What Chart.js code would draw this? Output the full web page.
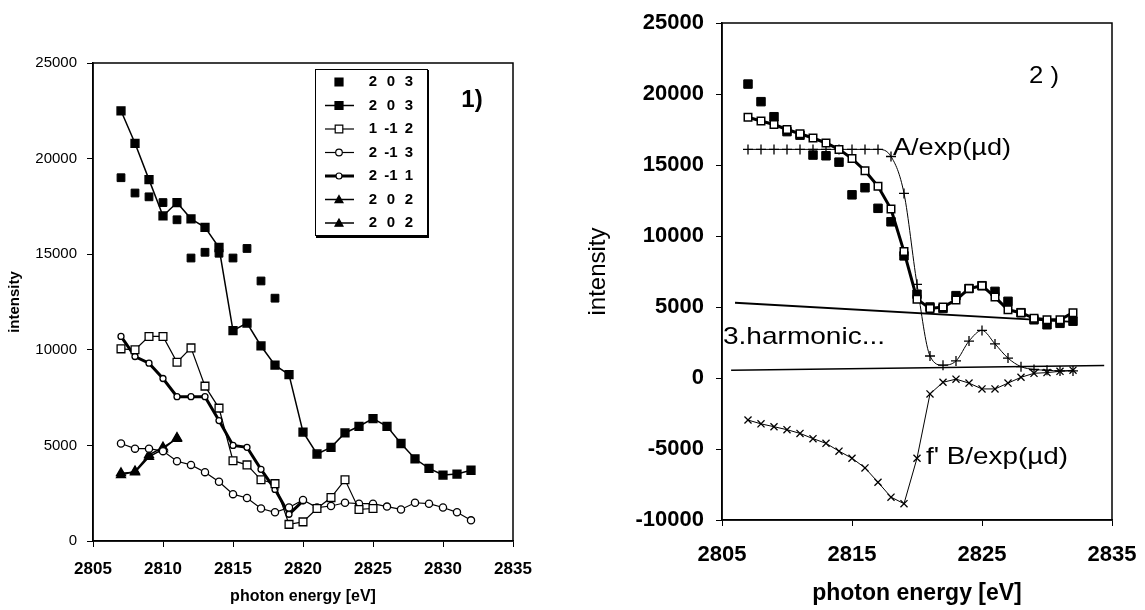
<!DOCTYPE html>
<html>
<head>
<meta charset="utf-8">
<script src="https://cdn.jsdelivr.net/npm/chart.js@4.4.0/dist/chart.umd.min.js"></script>
<style>
  body { margin: 0; background: #fff; width: 1145px; height: 610px; overflow: hidden; position: relative; }
  canvas { position: absolute; top: 0; }
  #left { left: 0; }
  #right { left: 560px; }
</style>
</head>
<body>
<canvas id="left" width="560" height="610"></canvas>
<canvas id="right" width="585" height="610"></canvas>
<script>
// ---- panel 1) ----
const energy = [2807, 2808, 2809, 2810, 2811, 2812, 2813, 2814, 2815, 2816, 2817, 2818, 2819,
                2820, 2821, 2822, 2823, 2824, 2825, 2826, 2827, 2828, 2829, 2830, 2831, 2832];
const r203dots = [19000, 18200, 18000, 17700, 16800, 14800, 15100, 15050, 14800, 15300, 13600, 12700];
const r203 = [22500, 20800, 18900, 17000, 17700, 16850, 16400, 15350, 11000, 11400, 10200, 9200, 8700,
              5700, 4550, 4900, 5650, 6000, 6400, 6000, 5100, 4300, 3800, 3450, 3500, 3700];
const r112 = [10050, 10000, 10700, 10700, 9350, 10100, 8100, 6950, 4200, 3980, 3200, 3000, 870,
              1000, 1700, 2270, 3200, 1650, 1700];
const r213 = [5100, 4830, 4830, 4700, 4170, 3980, 3600, 3100, 2450, 2250, 1700, 1500, 1750,
              2150, 1750, 1830, 2000, 1950, 1950, 1800, 1650, 2000, 1950, 1750, 1500, 1080];
const r211 = [10700, 9650, 9300, 8500, 7550, 7550, 7550, 6300, 5000, 4900, 3750, 2700, 1400, 2100];
const r202a = [3550, 3600, 4400, 4800, 5400];
const r202b = [3450, 3650, 4500, 4900, 5350];
const legendLabels = [['2', '0', '3'], ['2', '0', '3'], ['1', '-1', '2'], ['2', '-1', '3'],
                      ['2', '-1', '1'], ['2', '0', '2'], ['2', '0', '2']];
const yTicksLeft = [0, 5000, 10000, 15000, 20000, 25000];
const xTicksLeft = [2805, 2810, 2815, 2820, 2825, 2830, 2835];

// ---- panel 2) ----
const measured = [20700, 19460, 18400, 17350, 17100, 15700, 15650, 15200, 12900, 13400, 11950, 11000, 8600,
                  5900, 5000, 4900, 5800, 6300, 6500, 6100, 5400, 4600, 4100, 3750, 3850, 4000];
const fitted = [18360, 18100, 17850, 17500, 17200, 16900, 16550, 16100, 15450, 14600, 13500, 11900, 8900,
                5550, 4900, 5000, 5500, 6300, 6500, 5700, 4800, 4600, 4200, 4100, 4100, 4600];
const aExp = [16100, 16100, 16100, 16100, 16100, 16100, 16100, 16100, 16100, 16100, 16100, 15600, 13000,
              6600, 1550, 900, 1200, 2600, 3350, 2400, 1400, 800, 600, 550, 500, 500];
const bExp = [-2960, -3230, -3430, -3640, -3900, -4270, -4600, -5150, -5650, -6330, -7340, -8390, -8850,
              -5650, -1120, -300, -80, -360, -770, -770, -360, 50, 330, 380, 470, 550];
const harmX = [2806, 2832];
const harmY = [5300, 3950];
const baseX = [2805.7, 2834.4];
const baseY = [550, 880];
const yTicksRight = [-10000, -5000, 0, 5000, 10000, 15000, 20000, 25000];
const xTicksRight = [2805, 2815, 2825, 2835];

const FONT = '"Liberation Sans", Arial, sans-serif';
const pts = (xs, ys) => ys.map((y, i) => ({ x: xs[i], y: y }));

function drawMarker(ctx, style, x, y, r, fill) {
    ctx.beginPath();
    if (style === 'rect') {
        ctx.rect(x - r, y - r, 2 * r, 2 * r);
    } else if (style === 'circle') {
        ctx.arc(x, y, r, 0, Math.PI * 2);
    } else {
        ctx.moveTo(x, y - r);
        ctx.lineTo(x + r, y + r * 0.8);
        ctx.lineTo(x - r, y + r * 0.8);
        ctx.closePath();
    }
    ctx.fillStyle = fill;
    ctx.fill();
    ctx.lineWidth = 1.2;
    ctx.strokeStyle = '#000';
    ctx.stroke();
}

// the scanned labels are wider than Arial, so stretch them to the measured width
function wideText(ctx, text, x, y, width) {
    const w = ctx.measureText(text).width;
    ctx.save();
    ctx.translate(x, y);
    ctx.scale(width / w, 1);
    ctx.fillText(text, 0, 0);
    ctx.restore();
}

const frame = {
    id: 'frame',
    beforeDatasetsDraw(chart) {
        const a = chart.chartArea, ctx = chart.ctx;
        ctx.save();
        ctx.strokeStyle = '#000';
        ctx.lineWidth = 1.5;
        ctx.strokeRect(a.left, a.top, a.right - a.left, a.bottom - a.top);
        ctx.restore();
    }
};

const leftNotes = {
    id: 'leftNotes',
    afterDraw(chart) {
        const ctx = chart.ctx;
        ctx.save();
        // legend box
        ctx.fillStyle = '#fff';
        ctx.fillRect(315, 69, 113, 167);
        ctx.strokeStyle = '#000';
        ctx.lineWidth = 1;
        ctx.strokeRect(315.5, 69.5, 112, 166);
        ctx.lineWidth = 2;
        ctx.beginPath();
        ctx.moveTo(428, 70); ctx.lineTo(428, 237); ctx.lineTo(316, 237);
        ctx.stroke();
        const rows = [
            { line: 0, style: 'rect', fill: '#000', r: 4 },
            { line: 1.5, style: 'rect', fill: '#000', r: 4 },
            { line: 1.2, style: 'rect', fill: '#fff', r: 3.8 },
            { line: 1.2, style: 'circle', fill: '#fff', r: 3.3 },
            { line: 3, style: 'circle', fill: '#fff', r: 3 },
            { line: 1.5, style: 'tri', fill: '#000', r: 4 },
            { line: 1.5, style: 'tri', fill: '#000', r: 4 }
        ];
        const cols = [373, 391, 409];
        ctx.font = 'bold 15px ' + FONT;
        ctx.textAlign = 'center';
        ctx.textBaseline = 'middle';
        rows.forEach((row, i) => {
            const y = 82 + i * 23.5;
            if (row.line) {
                ctx.lineWidth = row.line;
                ctx.strokeStyle = '#000';
                ctx.beginPath();
                ctx.moveTo(325, y); ctx.lineTo(354, y);
                ctx.stroke();
            }
            drawMarker(ctx, row.style, 339, y, row.r, row.fill);
            ctx.fillStyle = '#000';
            legendLabels[i].forEach((t, j) => ctx.fillText(t, cols[j], y));
        });
        ctx.font = 'bold 24px ' + FONT;
        ctx.fillText('1)', 472, 100);
        ctx.restore();
    }
};

const rightNotes = {
    id: 'rightNotes',
    afterDraw(chart) {
        const ctx = chart.ctx;
        ctx.save();
        ctx.fillStyle = '#000';
        ctx.textBaseline = 'middle';
        ctx.textAlign = 'left';
        ctx.font = '24px ' + FONT;
        wideText(ctx, '2 )', 469, 76, 30);
        ctx.font = '24px ' + FONT;
        wideText(ctx, 'A/exp(\u00b5d)', 333, 148, 118);
        wideText(ctx, '3.harmonic...', 163, 337, 162);
        wideText(ctx, 'f\' B/exp(\u00b5d)', 366, 457, 142);
        ctx.restore();
    }
};

function axes(opts) {
    const fixTicks = list => s => { s.ticks = list.map(v => ({ value: v })); };
    return {
        x: {
            type: 'linear', min: 2805, max: 2835,
            afterBuildTicks: fixTicks(opts.xTicks),
            afterFit: s => { s.height = opts.xH; s.paddingLeft = 0; s.paddingRight = 0; },
            grid: { drawOnChartArea: false, color: '#000', tickLength: 6, lineWidth: 1 },
            border: { color: '#000', width: 1.5 },
            ticks: { color: '#000', padding: opts.xPad, maxRotation: 0, font: opts.xFont, callback: v => String(v) },
            title: { display: true, text: 'photon energy [eV]', color: '#000', font: opts.xTitleFont, padding: { bottom: opts.xTitlePad, top: 0 } }
        },
        y: {
            type: 'linear', min: opts.yMin, max: 25000,
            afterBuildTicks: fixTicks(opts.yTicks),
            afterFit: s => { s.width = opts.yW; s.paddingTop = 0; s.paddingBottom = 0; },
            grid: { drawOnChartArea: false, color: '#000', tickLength: 6, lineWidth: 1 },
            border: { color: '#000', width: 1.5 },
            ticks: { color: '#000', padding: opts.yPad, font: opts.yFont, callback: v => String(v) },
            title: { display: true, text: 'intensity', color: '#000', font: opts.yTitleFont, padding: { top: opts.yTitlePad, bottom: 0 } }
        }
    };
}

const common = {
    responsive: false,
    animation: false,
    events: [],
    plugins: { legend: { display: false }, tooltip: { enabled: false } },
    elements: { line: { tension: 0, borderColor: '#000' }, point: { borderColor: '#000' } }
};

new Chart(document.getElementById('left'), {
    type: 'line',
    data: {
        datasets: [
            { data: pts(energy, r203dots), showLine: false, pointStyle: 'rect', pointRadius: 5.5, backgroundColor: '#000', borderColor: '#000' },
            { data: pts(energy, r203), borderWidth: 1.5, pointStyle: 'rect', pointRadius: 5.5, pointBackgroundColor: '#000', borderColor: '#000' },
            { data: pts(energy, r112), borderWidth: 1.2, pointStyle: 'rect', pointRadius: 5.5, pointBorderWidth: 1.3, pointBackgroundColor: '#fff', borderColor: '#000' },
            { data: pts(energy, r213), borderWidth: 1.2, pointStyle: 'circle', pointRadius: 3.6, pointBorderWidth: 1.3, pointBackgroundColor: '#fff', borderColor: '#000' },
            { data: pts(energy, r211), borderWidth: 3, pointStyle: 'circle', pointRadius: 3, pointBorderWidth: 1.3, pointBackgroundColor: '#fff', borderColor: '#000' },
            { data: pts(energy, r202a), borderWidth: 1.5, pointStyle: 'triangle', pointRadius: 5, pointBackgroundColor: '#000', borderColor: '#000' },
            { data: pts(energy, r202b), borderWidth: 1.5, pointStyle: 'triangle', pointRadius: 5, pointBackgroundColor: '#000', borderColor: '#000' }
        ]
    },
    options: Object.assign({}, common, {
        layout: { padding: { left: 0, top: 63, right: 47, bottom: 0 } },
        scales: axes({
            xTicks: xTicksLeft, yTicks: yTicksLeft, yMin: 0, xH: 69, yW: 93,
            xPad: 12, yPad: 10,
            xFont: { family: FONT, size: 17, weight: 'bold' },
            yFont: { family: FONT, size: 15 },
            xTitleFont: { family: FONT, size: 16, weight: 'bold' },
            yTitleFont: { family: FONT, size: 15, weight: 'bold' },
            xTitlePad: 4, yTitlePad: 6
        })
    }),
    plugins: [frame, leftNotes]
});

new Chart(document.getElementById('right'), {
    type: 'line',
    data: {
        datasets: [
            { data: pts(energy, fitted), borderWidth: 3, pointStyle: 'rect', pointRadius: 5.3, pointBorderWidth: 1.5, pointBackgroundColor: '#fff', borderColor: '#000' },
            { data: pts(energy, measured), showLine: false, pointStyle: 'rect', pointRadius: 6, backgroundColor: '#000', borderColor: '#000' },
            { data: pts(energy, aExp), borderWidth: 1, cubicInterpolationMode: 'monotone', pointStyle: 'cross', pointRadius: 5, pointBorderWidth: 1.3, borderColor: '#000' },
            { data: pts(energy, bExp), borderWidth: 1, pointStyle: 'crossRot', pointRadius: 5, pointBorderWidth: 1.3, borderColor: '#000' },
            { data: pts(harmX, harmY), borderWidth: 1.8, pointRadius: 0, borderColor: '#000' },
            { data: pts(baseX, baseY), borderWidth: 1.5, pointRadius: 0, borderColor: '#000' }
        ]
    },
    options: Object.assign({}, common, {
        layout: { padding: { left: 0, top: 23, right: 33, bottom: 0 } },
        scales: axes({
            xTicks: xTicksRight, yTicks: yTicksRight, yMin: -10000, xH: 90, yW: 162,
            xPad: 16, yPad: 12,
            xFont: { family: FONT, size: 22, weight: 'bold' },
            yFont: { family: FONT, size: 22, weight: 'bold' },
            xTitleFont: { family: FONT, size: 23, weight: 'bold' },
            yTitleFont: { family: FONT, size: 24 },
            xTitlePad: 3, yTitlePad: 24
        })
    }),
    plugins: [frame, rightNotes]
});
</script>
</body>
</html>
